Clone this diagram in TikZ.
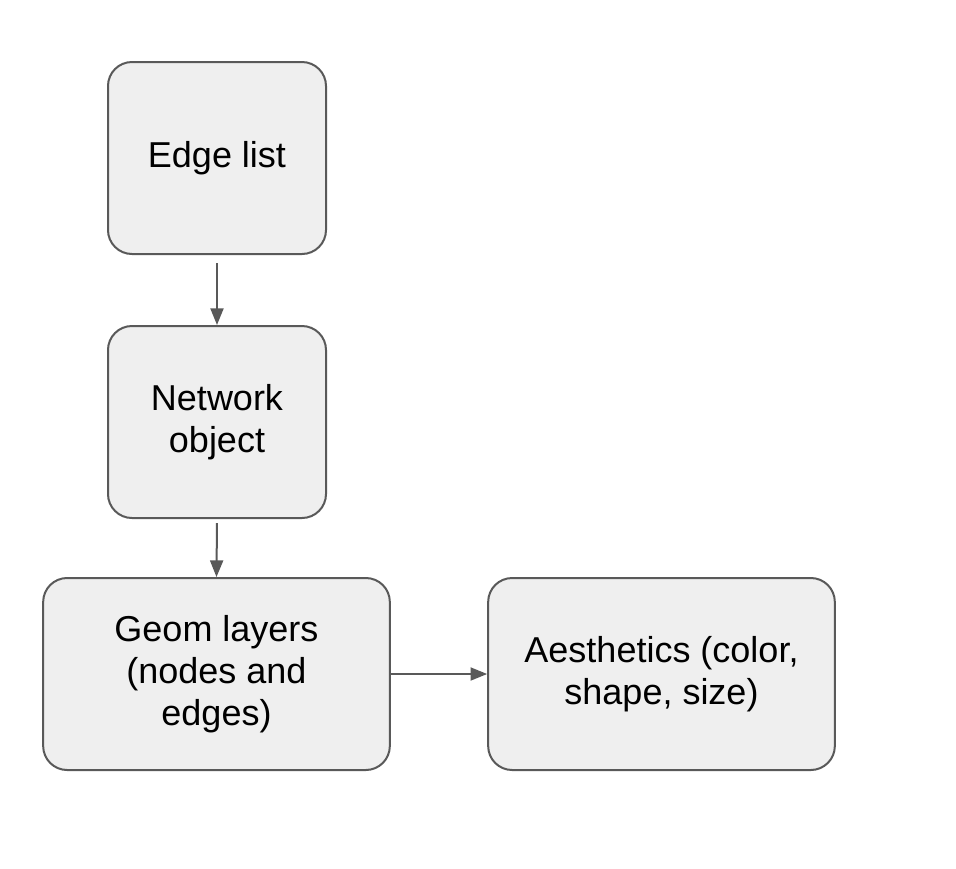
\documentclass[tikz,border=0pt]{standalone}
\usepackage{fontspec}
\setmainfont{Liberation Sans}
\usetikzlibrary{arrows.meta}
\definecolor{boxfill}{HTML}{EFEFEF}
\definecolor{boxline}{HTML}{595959}

\begin{document}
\begin{tikzpicture}[x=0.75pt,y=-0.75pt]
\tikzset{
    flowbox/.style={draw=boxline,fill=boxfill,line width=1.5pt,rounded corners=18pt,
        minimum height=144pt,align=center,font=\fontsize{27}{31.5}\selectfont},
    flowarrow/.style={draw=boxline,line width=1.5pt,-{Triangle[length=12.5pt,width=9.75pt]}}
}
\useasboundingbox (0,0) rectangle (956,868);
% Boxes
\node[flowbox,minimum width=163.5pt] (edgel) at (217,158){Edge list};
\node[flowbox,minimum width=163.5pt] (netobj) at (217,422){Network\\object};
\node[flowbox,minimum width=260pt] (geoml) at (216.5,674){Geom layers\\(nodes and\\edges)};
\node[flowbox,minimum width=260pt] (aesth) at (661.5,674){Aesthetics (color,\\shape, size)};
% Arrows
\draw[flowarrow,shorten <=6pt](edgel.south)--(netobj.north);
\draw[flowarrow,shorten <=3pt](netobj.south)--(geoml.north);
\draw[flowarrow](geoml.east)--(aesth.west);
\end{tikzpicture}
\end{document}
